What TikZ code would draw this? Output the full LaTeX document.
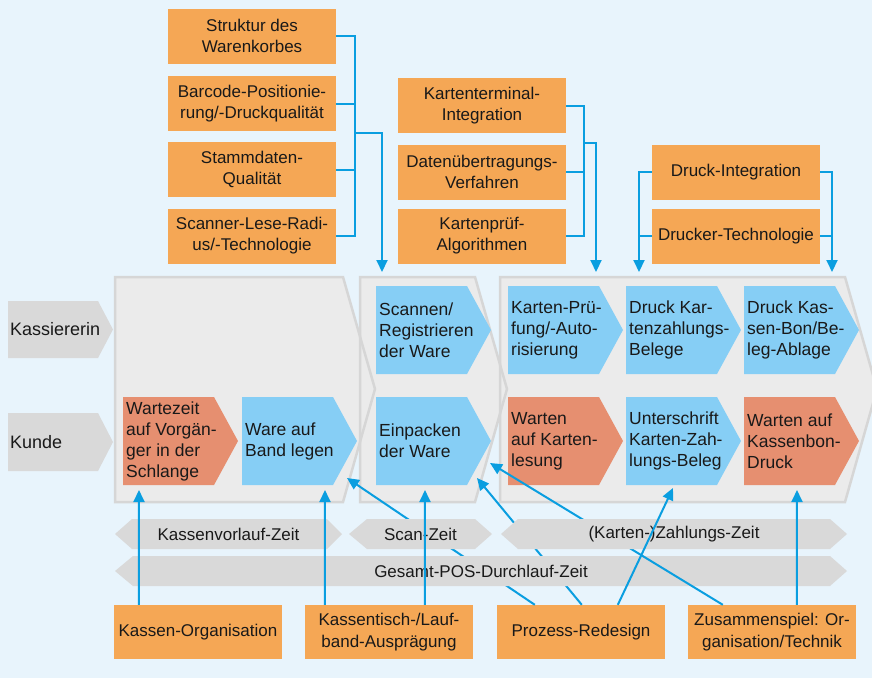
\documentclass[tikz,border=0pt]{standalone}
\usepackage{fontspec}
\setmainfont{Liberation Sans}
\usetikzlibrary{arrows.meta,calc}
\definecolor{bg}{RGB}{232,244,252}
\definecolor{phasefill}{RGB}{235,235,235}
\definecolor{phaseline}{RGB}{214,214,214}
\definecolor{barfill}{RGB}{217,217,217}
\definecolor{stepblue}{RGB}{134,206,245}
\definecolor{stepred}{RGB}{230,143,112}
\definecolor{boxorange}{RGB}{245,167,85}
\definecolor{linkblue}{RGB}{10,158,224}
\definecolor{txt}{RGB}{25,25,25}
\tikzset{
  conn/.style={draw=linkblue, line width=2pt},
  arr/.style={conn, -{Triangle[length=12pt,width=11pt]}},
  factor/.style={fill=boxorange, minimum width=168pt, minimum height=55pt, inner sep=0pt, align=center, text=txt, font=\fontsize{17}{21}\selectfont},
  steptext/.style={inner sep=3pt, align=left, anchor=west, text=txt, font=\fontsize{17.5}{21}\selectfont},
  bartext/.style={inner sep=0pt, text=txt, font=\fontsize{17}{20}\selectfont},
  lanetext/.style={inner sep=2pt, anchor=west, text=txt, font=\fontsize{18}{21}\selectfont},
  phaseborder/.style={draw=phaseline, line width=2.5pt},
}
\newcommand\stepshape[3]{\fill[#3] (#1,#2) -- ++(91,0) -- ++(24,44) -- ++(-24,44) -- ++(-91,0) -- cycle;}
\begin{document}
\begin{tikzpicture}[x=1pt,y=-1pt]
\useasboundingbox (0,0) rectangle (872,678);
\fill[bg] (0,0) rectangle (872,678);
\clip (0,0) rectangle (872,678);
% phases
\def\phaseA{(115,277) -- (343,277) -- (375,389) -- (343,502) -- (115,502) -- cycle}
\def\phaseB{(360,277) -- (475,277) -- (507,389) -- (475,502) -- (360,502) -- cycle}
\def\phaseC{(500,277) -- (845,277) -- (877,389) -- (845,502) -- (500,502) -- cycle}
\fill[phasefill] \phaseC;
\fill[phasefill] \phaseB;
\fill[phasefill] \phaseA;
\draw[phaseborder] \phaseC;
\draw[phaseborder] \phaseB;
\draw[phaseborder] \phaseA;
% lane labels
\fill[barfill] (8,301) -- (98,301) -- (113,329.5) -- (98,358) -- (8,358) -- cycle;
\node[lanetext] (lk) at (8,329.5) {Kassiererin};
\fill[barfill] (8,413) -- (98,413) -- (113,442) -- (98,471) -- (8,471) -- cycle;
\node[lanetext] (lc) at (8,442) {Kunde};
% steps row 1
\stepshape{376}{286}{stepblue}
\node[steptext] (s1) at (376,330) {Scannen/\\Registrieren\\der Ware};
\stepshape{508}{286}{stepblue}
\node[steptext] (s2) at (508,330) {Karten-Prü-\\fung/-Auto-\\risierung};
\stepshape{626}{286}{stepblue}
\node[steptext] (s3) at (626,330) {Druck Kar-\\tenzahlungs-\\Belege};
\stepshape{744}{286}{stepblue}
\node[steptext] (s4) at (744,330) {Druck Kas-\\sen-Bon/Be-\\leg-Ablage};
% steps row 2
\stepshape{123}{397}{stepred}
\node[steptext] (c1) at (123,441) {Wartezeit\\auf Vorgän-\\ger in der\\Schlange};
\stepshape{242}{397}{stepblue}
\node[steptext] (c2) at (242,441) {Ware auf\\Band legen};
\stepshape{376}{397}{stepblue}
\node[steptext] (c3) at (376,441) {Einpacken\\der Ware};
\stepshape{508}{397}{stepred}
\node[steptext] (c4) at (508,441) {Warten\\auf Karten-\\lesung};
\stepshape{626}{397}{stepblue}
\node[steptext] (c5) at (626,441) {Unterschrift\\Karten-Zah-\\lungs-Beleg};
\stepshape{744}{397}{stepred}
\node[steptext] (c6) at (744,441) {Warten auf\\Kassenbon-\\Druck};
% top factor boxes
\node[factor] (t1) at (252,36) {Struktur des\\Warenkorbes};
\node[factor] (t2) at (252,103.5) {Barcode-Positionie-\\rung/-Druckqualität};
\node[factor] (t3) at (252,169.5) {Stammdaten-\\Qualität};
\node[factor] (t4) at (252,236) {Scanner-Lese-Radi-\\us/-Technologie};
\node[factor] (u1) at (482,105.5) {Kartenterminal-\\Integration};
\node[factor] (u2) at (482,172) {Datenübertragungs-\\Verfahren};
\node[factor] (u3) at (482,236) {Kartenprüf-\\Algorithmen};
\node[factor] (v1) at (736,172) {Druck-Integration};
\node[factor] (v2) at (736,236) {Drucker-Technologie};
% brackets group 1
\coordinate (g1) at (355,133);
\coordinate (g1t) at (382,272);
\draw[conn] (t1.east) -- ++(19,0) |- (t4.east);
\draw[conn] (t2.east) -- ++(19,0);
\draw[conn] (t3.east) -- ++(19,0);
\draw[arr] (g1) -| (g1t);
% brackets group 2
\coordinate (g2) at (584,143);
\coordinate (g2t) at (596,272);
\draw[conn] (u1.east) -- ++(18,0) |- (u3.east);
\draw[conn] (u2.east) -- ++(18,0);
\draw[arr] (g2) -| (g2t);
% brackets group 3
\coordinate (g3l) at (639,272);
\coordinate (g3r) at (832,272);
\draw[conn] (v2.west) -- ++(-13,0);
\draw[arr] (v1.west) -| (g3l);
\draw[conn] (v2.east) -- ++(12,0);
\draw[arr] (v1.east) -| (g3r);
% bottom factor boxes
\node[factor, minimum height=54pt] (ko) at (198,632) {Kassen-Organisation};
\node[factor, minimum height=54pt, font=\fontsize{17}{22}\selectfont] (kt) at (389,632) {Kassentisch-/Lauf-\\band-Ausprägung};
\node[factor, minimum height=54pt] (pr) at (581,632) {Prozess-Redesign};
\node[factor, minimum height=54pt, font=\fontsize{17}{22}\selectfont] (zs) at (772,632) {Zusammenspiel: Or-\\ganisation/Technik};
% arrow targets
\coordinate (a1) at (139,490);
\coordinate (a2) at (325,490);
\coordinate (a3) at (425,490);
\coordinate (a4) at (797,490);
\coordinate (a5) at (673,488);
\coordinate (d1) at (347,478);
\coordinate (d2) at (477,478);
\coordinate (d3) at (490,463);
% diagonals behind bars
\draw[arr] ([xshift=38pt]pr.north west) -- (d1);
\draw[arr] ([xshift=85pt]pr.north west) -- (d2);
% total bar
\fill[barfill] (115,571) -- (133,556) -- (830,556) -- (847,571) -- (830,586) -- (133,586) -- cycle;
\node[bartext] (gz) at (481,571) {Gesamt-POS-Durchlauf-Zeit};
\draw[arr] ([xshift=35pt]zs.north west) -- (d3);
% phase bars
\fill[barfill] (115,534) -- (132,519) -- (327,519) -- (342,534) -- (327,549) -- (132,549) -- cycle;
\node[bartext] (kz) at (228.5,534) {Kassenvorlauf-Zeit};
\fill[barfill] (349,534) -- (367,519) -- (475,519) -- (492,534) -- (475,549) -- (367,549) -- cycle;
\node[bartext] (sz) at (420.5,534) {Scan-Zeit};
\fill[barfill] (501,534) -- (518,519) -- (830,519) -- (847,534) -- (830,549) -- (518,549) -- cycle;
\node[bartext] (zz) at (674,534) {(Karten-)Zahlungs-Zeit};
% verticals on top
\draw[arr] ([xshift=25pt]ko.north west) -- (a1);
\draw[arr] ([xshift=20pt]kt.north west) -- (a2);
\draw[arr] ([xshift=120pt]kt.north west) -- (a3);
\draw[arr] ([xshift=109pt]zs.north west) -- (a4);
\draw[arr] ([xshift=121pt]pr.north west) -- (a5);
\end{tikzpicture}
\end{document}
